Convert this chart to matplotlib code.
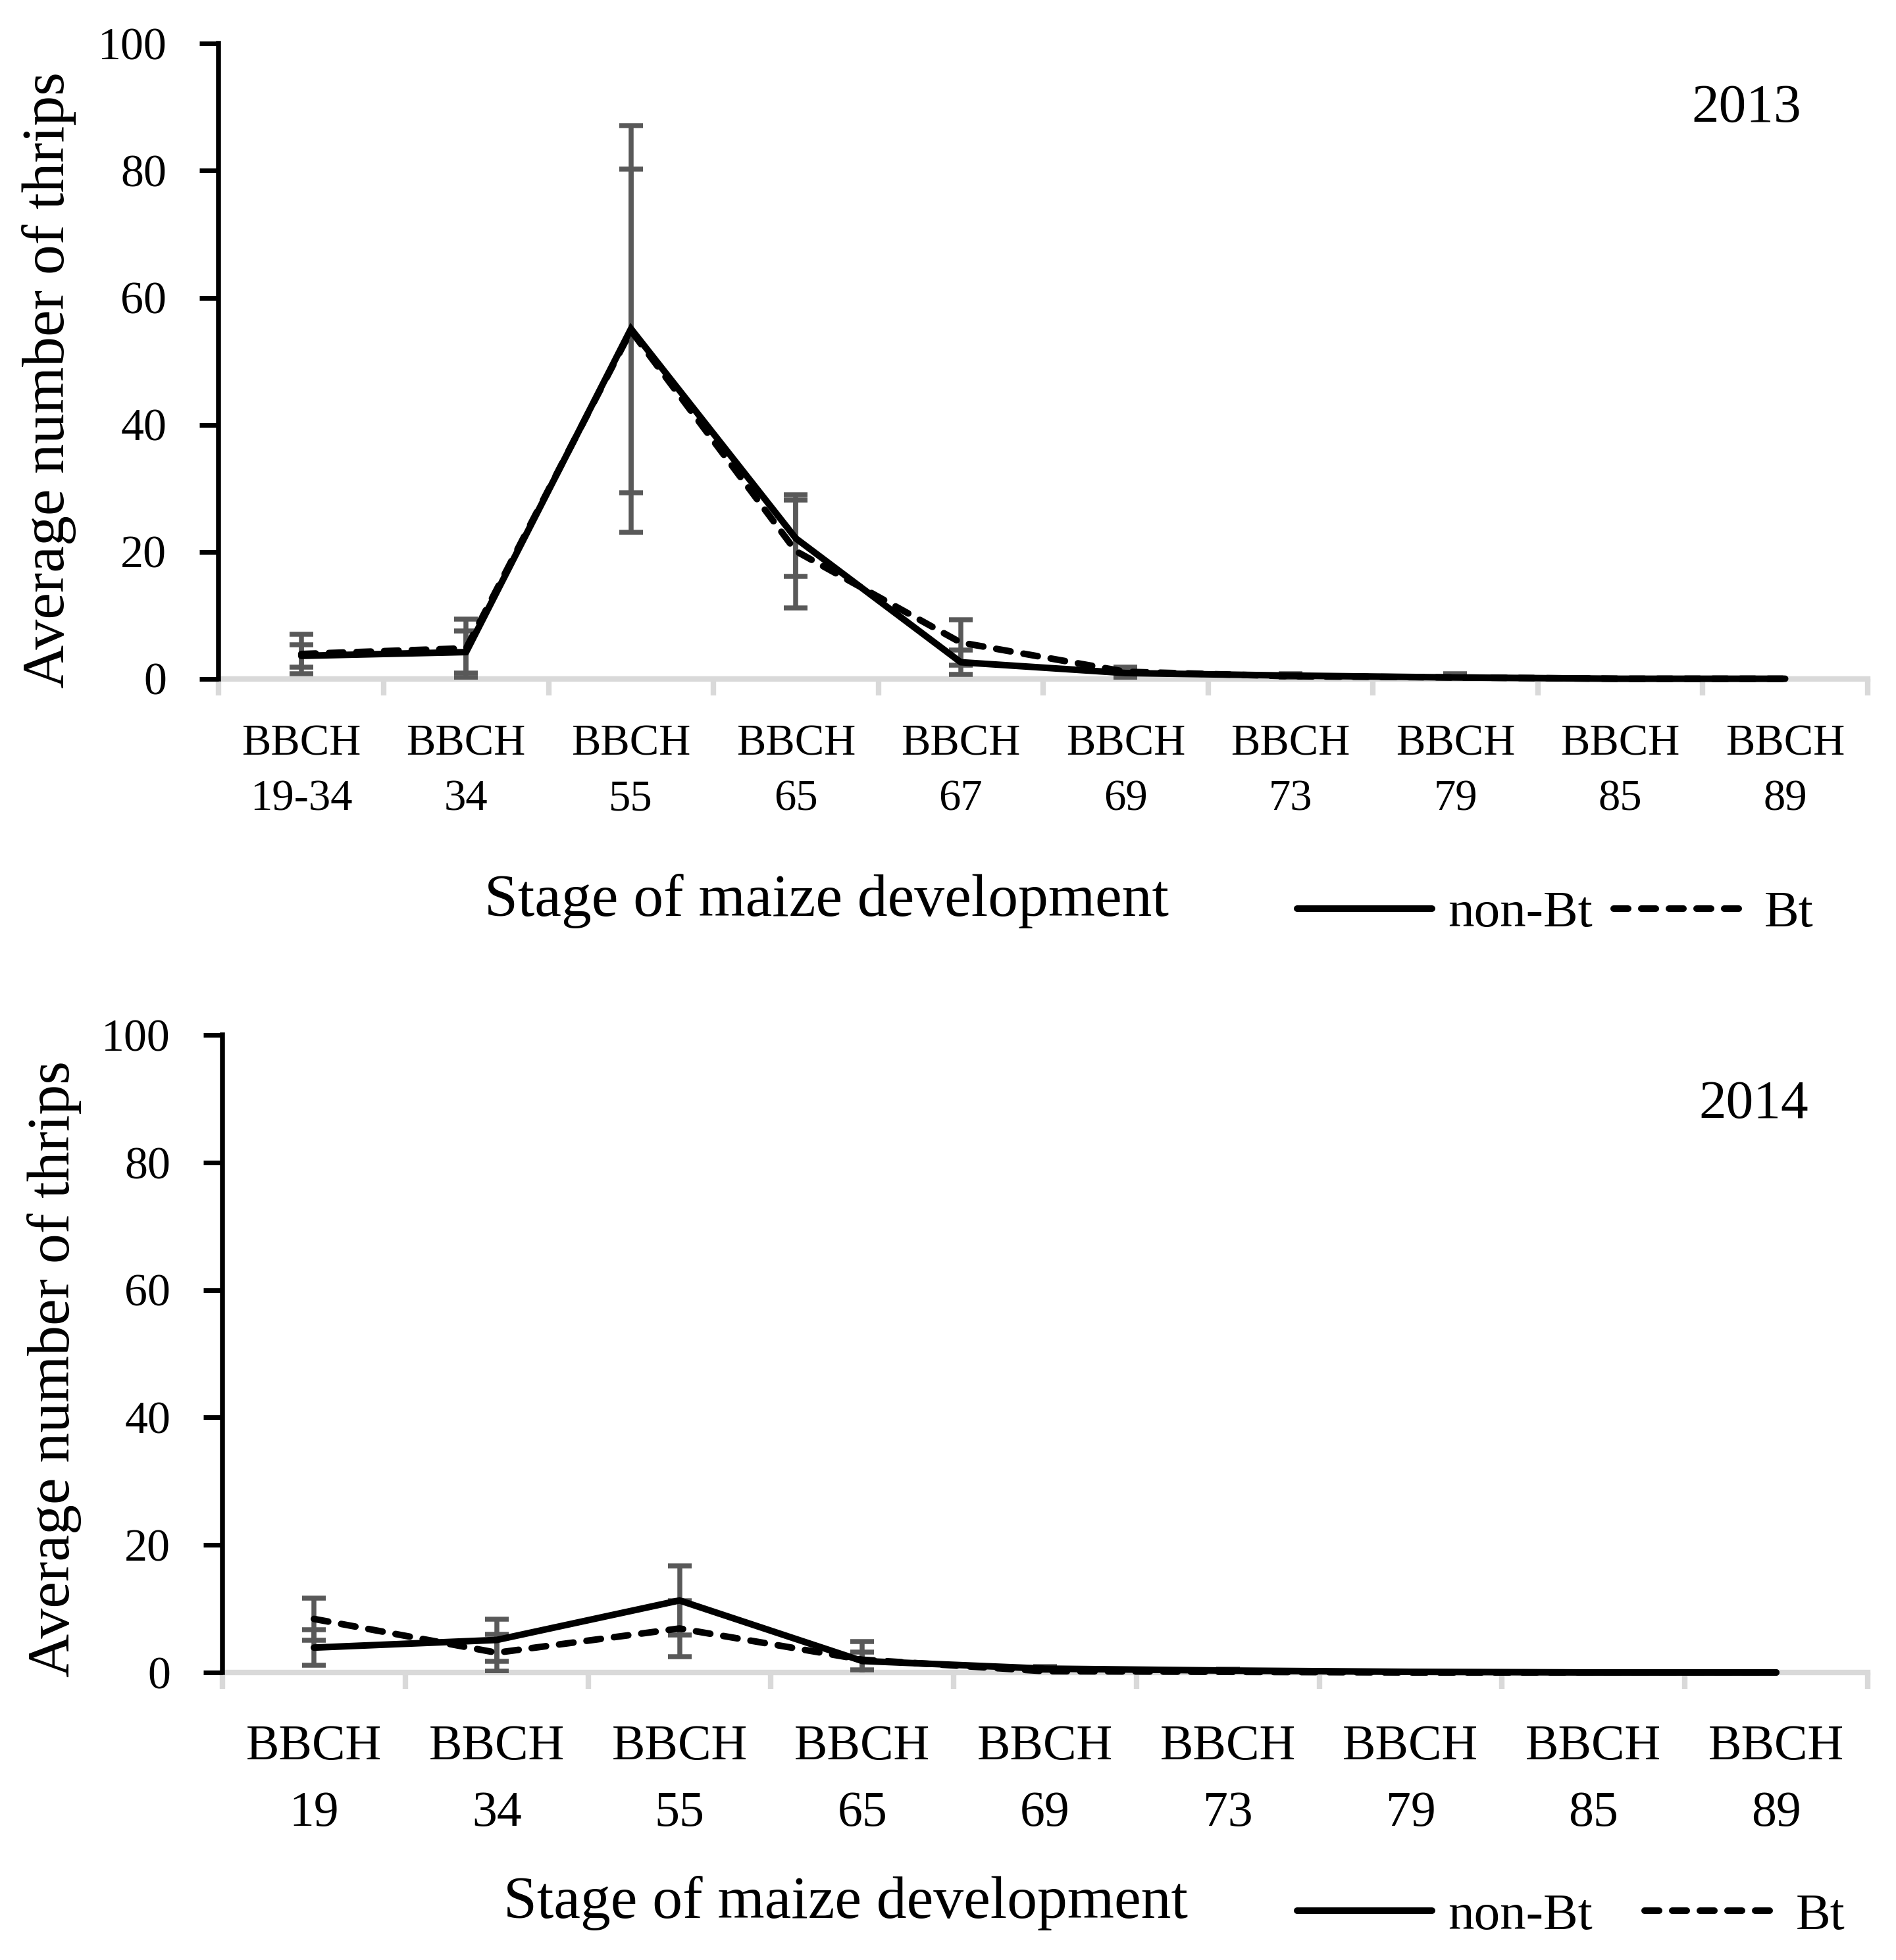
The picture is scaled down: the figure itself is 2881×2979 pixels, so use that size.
import numpy as np
import matplotlib.pyplot as plt
from matplotlib.lines import Line2D

plt.rcParams["font.family"] = ["Liberation Serif", "DejaVu Serif"]

stages_2013 = ["19-34", "34", "55", "65", "67", "69", "73", "79", "85", "89"]
nonbt_2013 = [3.6, 4.2, 55.1, 22.1, 2.6, 0.9, 0.5, 0.2, 0.0, 0.0]
nonbt_err_2013 = [1.8, 3.3, 32.0, 6.0, 1.9, 0.9, 0.3, 0.6, 0.0, 0.0]
bt_2013 = [3.9, 4.8, 54.8, 20.1, 5.7, 1.1, 0.4, 0.2, 0.0, 0.0]
bt_err_2013 = [3.1, 4.6, 25.5, 8.9, 3.6, 0.6, 0.2, 0.3, 0.0, 0.0]

stages_2014 = ["19", "34", "55", "65", "69", "73", "79", "85", "89"]
nonbt_2014 = [3.9, 5.1, 11.3, 1.8, 0.6, 0.3, 0.1, 0.0, 0.0]
nonbt_err_2014 = [2.8, 3.3, 5.4, 1.4, 0.3, 0.2, 0.0, 0.0, 0.0]
bt_2014 = [8.4, 3.1, 6.9, 2.0, 0.2, 0.1, 0.0, 0.0, 0.0]
bt_err_2014 = [3.3, 2.9, 4.4, 2.9, 0.6, 0.2, 0.0, 0.0, 0.0]

ERR_COLOR = "#595959"
AXIS_GRAY = "#d9d9d9"
DASH = (0, (2.2, 2.0))


def draw_panel(ax, stages, nonbt, nonbt_err, bt, bt_err, xtick_size, label_pad, spacing):
    x = np.arange(len(stages))
    for vals, errs in [(nonbt, nonbt_err), (bt, bt_err)]:
        vals = np.array(vals)
        errs = np.array(errs)
        m = errs > 0
        ax.errorbar(x[m], vals[m], yerr=errs[m], fmt="none", ecolor=ERR_COLOR,
                    elinewidth=1.8, capsize=4.4, capthick=1.8, zorder=2)
    ax.plot(x, nonbt, color="black", lw=2.4, solid_capstyle="round",
            solid_joinstyle="miter", zorder=4, clip_on=False)
    ax.plot(x, bt, color="black", lw=2.4, linestyle=DASH, dash_capstyle="round",
            zorder=4, clip_on=False)

    ax.set_xlim(-0.5, len(stages) - 0.5)
    ax.set_ylim(0, 100)
    ax.set_yticks(np.arange(0, 101, 20))
    ax.tick_params(axis="y", labelsize=16.8, length=7, width=1.7, color="black", pad=12)

    ax.set_xticks(np.arange(len(stages) + 1) - 0.5)
    ax.set_xticklabels([])
    ax.set_xticks(x, minor=True)
    ax.set_xticklabels(["BBCH\n" + s for s in stages], minor=True, linespacing=spacing)
    ax.tick_params(axis="x", which="major", length=6, width=2.0, color=AXIS_GRAY)
    ax.tick_params(axis="x", which="minor", length=0, labelsize=xtick_size, pad=label_pad)

    for s in ["top", "right"]:
        ax.spines[s].set_visible(False)
    ax.spines["left"].set_linewidth(1.8)
    ax.spines["bottom"].set_color(AXIS_GRAY)
    ax.spines["bottom"].set_linewidth(2.0)
    ax.spines["bottom"].set_zorder(1)


fig = plt.figure(figsize=(2881 / 300, 2979 / 300), dpi=300)
ax1 = fig.add_axes([0.1154, 0.6537, 0.985 - 0.1154, 0.9777 - 0.6537])
ax2 = fig.add_axes([0.1174, 0.1467, 0.985 - 0.1174, 0.4719 - 0.1467])

draw_panel(ax1, stages_2013, nonbt_2013, nonbt_err_2013, bt_2013, bt_err_2013,
           16.0, 16.5, 1.5)
draw_panel(ax2, stages_2014, nonbt_2014, nonbt_err_2014, bt_2014, bt_err_2014,
           18.2, 19, 1.6)

fig.text(0.921, 0.9445, "2013", fontsize=20, ha="center", va="center")
fig.text(0.925, 0.4362, "2014", fontsize=20, ha="center", va="center")

fig.text(0.026, 0.806, "Average number of thrips", fontsize=22, rotation=90,
         ha="center", va="center")
fig.text(0.0285, 0.3017, "Average number of thrips", fontsize=22, rotation=90,
         ha="center", va="center")

fig.text(0.436, 0.5326, "Stage of maize development", fontsize=22, ha="center",
         va="baseline")
fig.text(0.446, 0.0215, "Stage of maize development", fontsize=22, ha="center",
         va="baseline")

handles = [Line2D([], [], color="black", lw=2.4, solid_capstyle="round"),
           Line2D([], [], color="black", lw=2.4, linestyle=DASH, dash_capstyle="round")]
labels = ["non-Bt", "Bt"]
fig.legend(handles, labels, loc="center left", bbox_to_anchor=(0.684, 0.5337),
           ncol=2, frameon=False, fontsize=19, handlelength=2.6, handletextpad=0.3,
           columnspacing=0.4, borderpad=0, borderaxespad=0)
fig.legend(handles, labels, loc="center left", bbox_to_anchor=(0.684, 0.0222),
           ncol=2, frameon=False, fontsize=19, handlelength=2.6, handletextpad=0.3,
           columnspacing=1.0, borderpad=0, borderaxespad=0)

fig.savefig("out.png", dpi=300)
